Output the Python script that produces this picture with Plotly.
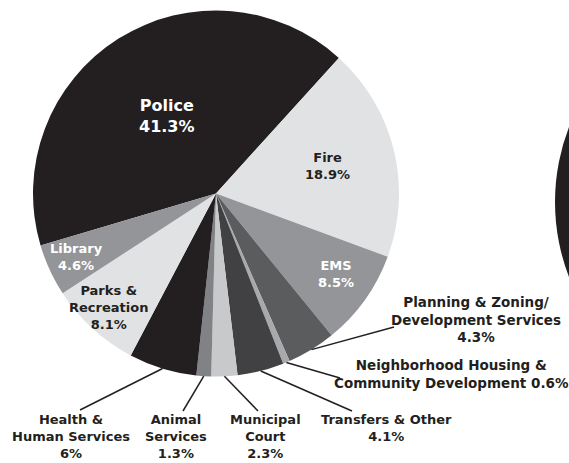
import math
import plotly.graph_objects as go

# ---------------- data ----------------
categories = [
    "Police", "Fire", "EMS", "Planning & Zoning/Development Services",
    "Neighborhood Housing & Community Development", "Transfers & Other",
    "Municipal Court", "Animal Services", "Health & Human Services",
    "Parks & Recreation", "Library",
]
values = [41.3, 18.9, 8.5, 4.3, 0.6, 4.1, 2.3, 1.3, 6, 8.1, 4.6]
label_lines = [
    ["Police"], ["Fire"], ["EMS"],
    ["Planning & Zoning/", "Development Services"],
    ["Neighborhood Housing &", "Community Development"],
    ["Transfers & Other"], ["Municipal", "Court"], ["Animal", "Services"],
    ["Health &", "Human Services"], ["Parks &", "Recreation"], ["Library"],
]
value_on_last_line = [False, False, False, False, True, False, False, False, False, False, False]

# ---------------- styles / layout ----------------
W, H = 569, 463
INK = "#231f20"
FONT = "DejaVu Sans"
slice_colors = ["#231f20", "#e1e2e3", "#939598", "#5b5c5e", "#a7a9ac",
                "#414143", "#c8c9cb", "#808285", "#231f20", "#e1e2e3", "#939598"]
CX, CY, R = 216, 193.5, 183          # pie centre / radius in pixels
START = 253.5                         # compass angle where the first slice starts

# label block: (x centre, y of first line centre, font size, colour, leader end or None)
label_layout = [
    (167, 106, 16, "white", None),
    (328, 158, 13, INK, None),
    (336, 266, 13, "white", None),
    (476, 302, 13.5, INK, (394, 327)),
    (451, 365, 13.5, INK, (340, 378)),
    (386, 419.5, 13, INK, (352, 411)),
    (265, 419.5, 13, INK, (258, 411)),
    (176, 419.5, 13, INK, (183, 411)),
    (71, 419.5, 13, INK, (80, 410)),
    (108, 291, 13, INK, None),
    (76, 249, 13, "white", None),
]

def px(x):
    return x / W

def py(y):
    return 1 - y / H

fig = go.Figure()
fig.add_trace(go.Pie(
    labels=categories, values=values, sort=False, direction="clockwise",
    rotation=START - 360, textinfo="none", hoverinfo="none",
    marker=dict(colors=slice_colors, line=dict(width=0)),
    domain=dict(x=[px(CX - R), px(CX + R)], y=[py(CY + R), py(CY - R)]),
    showlegend=False,
))

annotations = []
shapes = []
total = sum(values)
acc = 0.0
for cat, v, lines, on_last, lay in zip(categories, values, label_lines, value_on_last_line, label_layout):
    mid = START + (acc + v / 2) / total * 360
    acc += v
    x0, y0, fs, col, end = lay
    vtxt = f"{v:g}%"
    txt_lines = list(lines)
    if on_last:
        txt_lines[-1] = txt_lines[-1] + " " + vtxt
    else:
        txt_lines.append(vtxt)
    pitch = 1.3 * fs
    yc = y0 + (len(txt_lines) - 1) * pitch / 2
    annotations.append(dict(
        x=px(x0), y=py(yc), xref="paper", yref="paper",
        text="<b>" + "<br>".join(txt_lines) + "</b>", showarrow=False,
        xanchor="center", yanchor="middle", align="center",
        font=dict(family=FONT, size=fs, color=col),
    ))
    if end is not None:
        a = math.radians(mid)
        sx = CX + R * math.sin(a)
        sy = CY - R * math.cos(a)
        shapes.append(dict(type="line", xref="paper", yref="paper",
                           x0=px(sx), y0=py(sy), x1=px(end[0]), y1=py(end[1]),
                           line=dict(color=INK, width=1.5)))

# edge of the neighbouring chart, cut off at the right border
shapes.append(dict(type="circle", xref="paper", yref="paper",
                   x0=px(555), x1=px(555 + 416), y0=py(202 + 208), y1=py(202 - 208),
                   fillcolor=INK, line=dict(width=0), layer="below"))

fig.update_layout(
    width=W, height=H, margin=dict(l=0, r=0, t=0, b=0),
    paper_bgcolor="white", plot_bgcolor="white",
    annotations=annotations, shapes=shapes,
)
fig.write_html("out.html", config={"displayModeBar": False},
               post_script="document.body.style.margin='0';document.body.style.overflow='hidden';")
